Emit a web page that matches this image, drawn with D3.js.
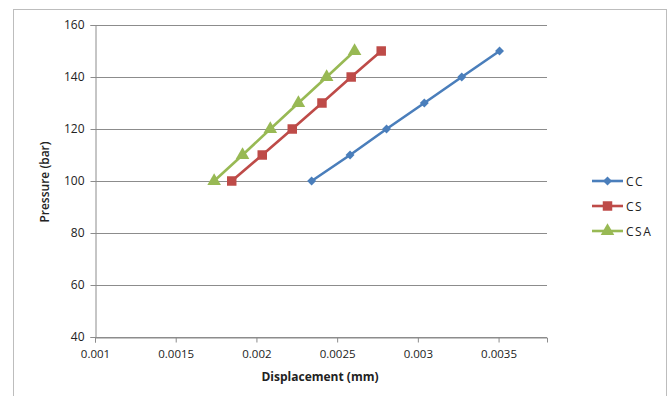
<!DOCTYPE html>
<html>
<head>
<meta charset="utf-8">
<script src="https://cdn.jsdelivr.net/npm/d3@7"></script>
<style>
  html, body { margin: 0; padding: 0; background: #fff; }
  svg { display: block; }
  text { font-family: "Open Sans", "DejaVu Sans", sans-serif; fill: #222; }
</style>
</head>
<body>
<svg id="chart" width="672" height="396"></svg>
<script>
// Pressure levels (bar) shared by all series
const pressure = [100, 110, 120, 130, 140, 150];

// Displacement (mm) for each specimen type
const ccDisp  = [0.002342, 0.002580, 0.002806, 0.003040, 0.003272, 0.003506];
const csDisp  = [0.001847, 0.002036, 0.002222, 0.002406, 0.002587, 0.002773];
const csaDisp = [0.001738, 0.001914, 0.002086, 0.002260, 0.002435, 0.002608];

const seriesNames = ["CC", "CS", "CSA"];
const xTicks = [0.001, 0.0015, 0.002, 0.0025, 0.003, 0.0035];
const yTicks = [40, 60, 80, 100, 120, 140, 160];

// CC uses a square turned 45 degrees as its diamond marker
const series = [
  { name: seriesNames[0], disp: ccDisp,  color: "#4a7ebb", marker: d3.symbolSquare,   size: 40, rot: 45 },
  { name: seriesNames[1], disp: csDisp,  color: "#be4b48", marker: d3.symbolSquare,   size: 90, rot: 0 },
  { name: seriesNames[2], disp: csaDisp, color: "#98b954", marker: d3.symbolTriangle, size: 80, rot: 0 }
];

const svg = d3.select("#chart");

// outer chart frame
svg.append("rect")
  .attr("x", 13.5).attr("y", 9.5)
  .attr("width", 653).attr("height", 400)
  .attr("fill", "none").attr("stroke", "#bdbdbd").attr("stroke-width", 1);

const plot = { left: 95, right: 547, top: 25, bottom: 337 };

const x = d3.scaleLinear().domain([0.001, 0.0038]).range([plot.left, plot.right]);
const y = d3.scaleLinear().domain([40, 160]).range([plot.bottom, plot.top]);

// horizontal gridlines
svg.append("g")
  .selectAll("line")
  .data(yTicks)
  .join("line")
  .attr("x1", plot.left).attr("x2", plot.right)
  .attr("y1", d => Math.round(y(d)) + 0.5).attr("y2", d => Math.round(y(d)) + 0.5)
  .attr("stroke", "#8c8c8c").attr("stroke-width", 1);

// y axis
const yAxis = svg.append("g")
  .attr("transform", `translate(${plot.left + 0.5},0)`)
  .call(d3.axisLeft(y).tickValues(yTicks).tickSize(5).tickPadding(6).tickFormat(d3.format("d")));
yAxis.select(".domain").attr("stroke", "#8c8c8c");
yAxis.selectAll(".tick line").attr("stroke", "#8c8c8c");
yAxis.selectAll(".tick text")
  .style("font-size", "12px").style("fill", "#222");

// x axis
const xAxis = svg.append("g")
  .attr("transform", `translate(0,${Math.round(plot.bottom) + 0.5})`)
  .call(d3.axisBottom(x).tickValues(xTicks).tickSize(5).tickPadding(7).tickFormat(d => String(+d.toFixed(4))));
xAxis.select(".domain").attr("stroke", "#8c8c8c");
xAxis.selectAll(".tick line").attr("stroke", "#8c8c8c");
xAxis.selectAll(".tick text")
  .style("font-size", "11.5px").style("fill", "#222");

// axis titles
svg.append("text")
  .attr("x", 320).attr("y", 381)
  .attr("text-anchor", "middle")
  .style("font-size", "12px").style("font-weight", "bold")
  .text("Displacement (mm)");

svg.append("text")
  .attr("transform", "translate(49,182) rotate(-90)")
  .attr("text-anchor", "middle")
  .style("font-size", "12px").style("font-weight", "600")
  .text("Pressure (bar)");

// series lines and markers
const line = d3.line().x(d => x(d[0])).y(d => y(d[1]));

series.forEach(s => {
  const pts = s.disp.map((v, i) => [v, pressure[i]]);
  svg.append("path")
    .datum(pts)
    .attr("d", line)
    .attr("fill", "none")
    .attr("stroke", s.color)
    .attr("stroke-width", 2.6);
  svg.append("g")
    .selectAll("path")
    .data(pts)
    .join("path")
    .attr("transform", d => `translate(${x(d[0])},${y(d[1])}) rotate(${s.rot})`)
    .attr("d", d3.symbol().type(s.marker).size(s.size))
    .attr("fill", s.color);
});

// legend
const legend = svg.append("g").attr("transform", "translate(592,181)");
series.forEach((s, i) => {
  const g = legend.append("g").attr("transform", `translate(0,${i * 25})`);
  g.append("line")
    .attr("x1", 0).attr("x2", 31)
    .attr("stroke", s.color).attr("stroke-width", 2.6);
  g.append("path")
    .attr("transform", `translate(15.5,0) rotate(${s.rot})`)
    .attr("d", d3.symbol().type(s.marker).size(s.size))
    .attr("fill", s.color);
  g.append("text")
    .attr("x", 34).attr("y", 4.5)
    .style("font-size", "12px")
    .style("letter-spacing", "1.5px")
    .text(s.name);
});
</script>
</body>
</html>
